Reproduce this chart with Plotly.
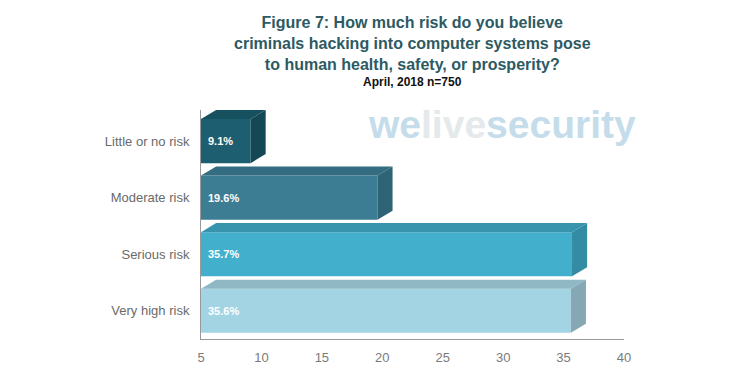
import plotly.graph_objects as go

categories = ["Little or no risk", "Moderate risk", "Serious risk", "Very high risk"]
values = [9.1, 19.6, 35.7, 35.6]
labels = ["9.1%", "19.6%", "35.7%", "35.6%"]
x_ticks = [5, 10, 15, 20, 25, 30, 35, 40]

front_colors = ["#1d5f70", "#3d7d93", "#42afcc", "#a2d4e4"]
top_colors = ["#17505e", "#346d81", "#3894ad", "#8fb7c4"]
side_colors = ["#144855", "#2f6477", "#338ca4", "#86a8b4"]

positions = list(range(len(categories)))
BAR_W = 0.78
DX = 1.25   # depth in x data units
DY = 0.16   # depth in category units
X0 = 5

fig = go.Figure()

# top and side faces for 3D look (derived from the data)
for i, v in enumerate(values):
    yt = positions[i] - BAR_W / 2
    yb = positions[i] + BAR_W / 2
    fig.add_trace(go.Scatter(
        x=[X0, v, v + DX, X0 + DX, X0],
        y=[yt, yt, yt - DY, yt - DY, yt],
        fill="toself", fillcolor=top_colors[i], mode="lines",
        line=dict(width=0, color=top_colors[i]), hoverinfo="skip", showlegend=False))
    fig.add_trace(go.Scatter(
        x=[v, v, v + DX, v + DX, v],
        y=[yb, yt, yt - DY, yb - DY, yb],
        fill="toself", fillcolor=side_colors[i], mode="lines",
        line=dict(width=0, color=side_colors[i]), hoverinfo="skip", showlegend=False))

fig.add_trace(go.Bar(
    x=values, y=positions, orientation="h", width=BAR_W,
    marker=dict(color=front_colors, line=dict(width=0)),
    hoverinfo="skip", showlegend=False))

annotations = [
    dict(text="<b>Figure 7: How much risk do you believe<br>criminals hacking into computer systems pose<br>to human health, safety, or prosperity?</b>",
         xref="paper", yref="paper", x=0.5, y=1, yshift=98, xanchor="center", yanchor="top",
         showarrow=False, font=dict(size=16, color="#2d5a63", family="Arial, Liberation Sans"),
         align="center"),
    dict(text="<b>April, 2018 n=750</b>", xref="paper", yref="paper", x=0.5, y=1, yshift=28,
         xanchor="center", yanchor="middle", showarrow=False,
         font=dict(size=12, color="#111111")),
    dict(text="<b><span style='color:#c5dcea'>we</span><span style='color:#e4e9ec'>live</span><span style='color:#c5dcea'>security</span></b>",
         xref="paper", yref="paper", x=1.033, y=1, yshift=-14, xanchor="right", yanchor="middle",
         showarrow=False, font=dict(size=39, family="Arial, Liberation Sans")),
]
for p, lab in zip(positions, labels):
    annotations.append(dict(text="<b>" + lab + "</b>", x=X0, y=p, xref="x", yref="y",
                            xanchor="left", yanchor="middle", xshift=5, showarrow=False,
                            font=dict(size=11, color="white", family="Arial, Liberation Sans")))

fig.update_layout(
    width=748, height=374,
    margin=dict(l=193, r=132, t=102, b=43),
    paper_bgcolor="white", plot_bgcolor="white",
    font=dict(family="Arial, Liberation Sans, sans-serif"),
    xaxis=dict(range=[5, 40], tickvals=x_ticks, showgrid=False, zeroline=False,
               showline=True, linecolor="#999999", linewidth=1, automargin=False,
               ticks="", ticklabelstandoff=6, tickfont=dict(size=13, color="#7a7a7a")),
    yaxis=dict(range=[3.5, -0.55], tickvals=positions, ticktext=categories,
               showgrid=False, zeroline=False, showline=True, linecolor="#999999",
               linewidth=1, ticks="", ticklabelstandoff=8, automargin=False,
               tickfont=dict(size=13, color="#6a6a6a")),
    annotations=annotations,
)

fig.write_html("out.html")
